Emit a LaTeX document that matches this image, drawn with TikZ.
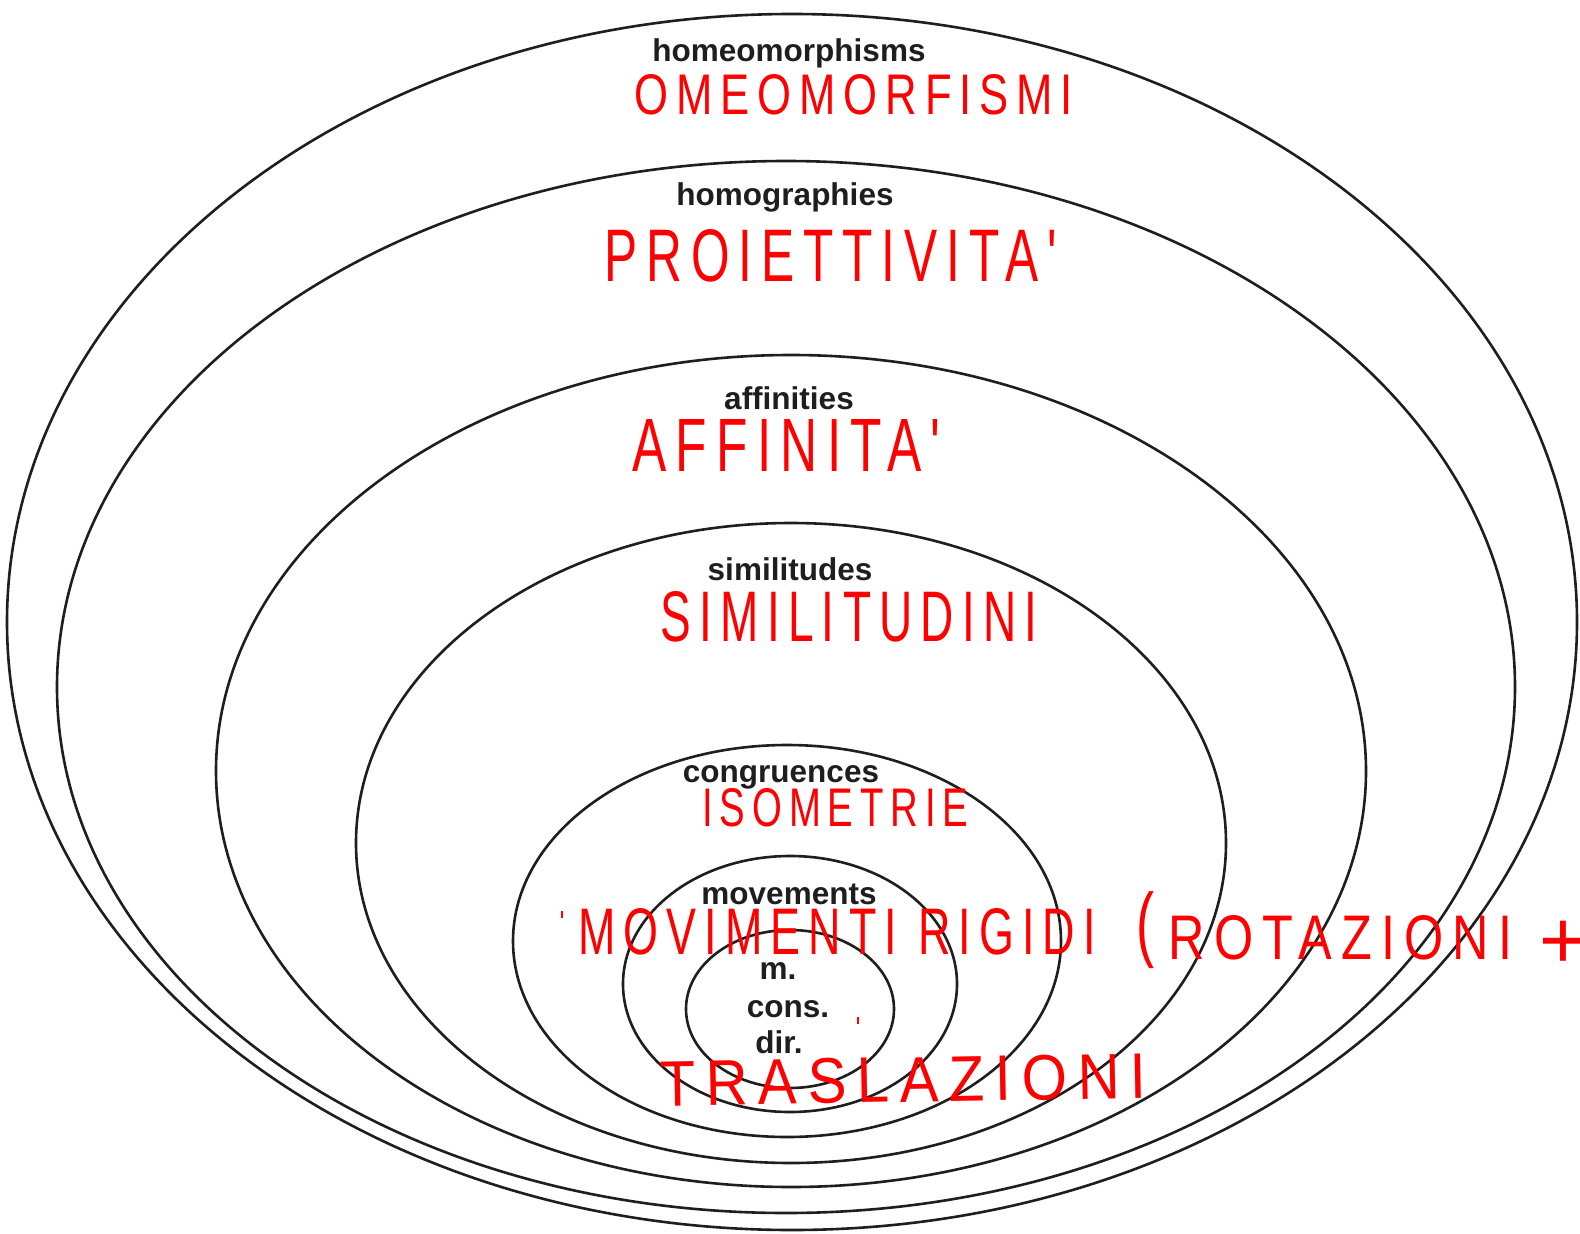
\documentclass[tikz,border=0pt]{standalone}
\usepackage{fontspec}
\setmainfont{Liberation Sans}
\newfontfamily\handfont[LetterSpace=18]{Liberation Sans}
\newfontfamily\plainhand{Liberation Sans}
\usepackage{graphicx}
\definecolor{ink}{RGB}{30,30,30}
\definecolor{pen}{RGB}{255,0,0}
\newcommand\hw[3]{\resizebox{#1pt}{#2pt}{\handfont #3\kern-0.18em}}
\begin{document}
\begin{tikzpicture}[x=1pt,y=-1pt,
  ring/.style={draw=ink, line width=2.6pt},
  lab/.style={font=\fontsize{31.5}{36}\selectfont\bfseries, text=ink, anchor=base, inner sep=0pt},
  hand/.style={text=pen, inner sep=0pt, anchor=center}]
\useasboundingbox (0,0) rectangle (1580,1234);
\fill[white] (0,0) rectangle (1580,1234);
\begin{scope}
\clip (0,0) rectangle (1580,1234);
% nested ellipses
\draw[ring] (792,622) ellipse [x radius=785, y radius=608];
\draw[ring] (786,687) ellipse [x radius=729, y radius=526];
\draw[ring] (791,771) ellipse [x radius=575, y radius=416];
\draw[ring] (791,843) ellipse [x radius=435, y radius=320];
\draw[ring] (787,941) ellipse [x radius=274, y radius=196];
\draw[ring] (790,984) ellipse [x radius=167, y radius=128];
\draw[ring] (790,1009) ellipse [x radius=104, y radius=79];

% printed labels
\node[lab] (homeo) at (789,61) {homeomorphisms};
\node[lab] (homog) at (785,205) {homographies};
\node[lab] (aff) at (789,409) {affinities};
\node[lab] (sim) at (790,580) {similitudes};
\node[lab] (cong) at (781,782) {congruences};
\node[lab] (mov) at (789,904) {movements};
\node[lab] (m) at (778,979) {m.};
\node[lab] (cons) at (788,1017) {cons.};
\node[lab] (dir) at (779,1053) {dir.};

% handwritten red labels
\node[hand] (omeo) at (850,95) {\hw{430}{40}{OMEOMORFISMI}};
\node[hand] (proi) at (826,256) {\hw{443}{52}{PROIETTIVITA'}};
\node[hand] (affi) at (782,445) {\hw{299}{52}{AFFINITA'}};
\node[hand] (simi) at (845,617) {\hw{369}{50}{SIMILITUDINI}};
\node[hand] (isom) at (832,808) {\hw{259}{38}{ISOMETRIE}};
\node[hand] (movr) at (833,932) {\hw{509}{46}{MOVIMENTI RIGIDI}};
\node[hand] (paren) at (1145,930) {\resizebox*{18pt}{77pt}{\plainhand (}};
\node[hand] (rota) at (1336,938) {\hw{334}{44}{ROTAZIONI}};
\node[text=pen, inner sep=0pt, anchor=base, font=\fontsize{82}{90}\selectfont\plainhand] (plus) at (1563,968) {+};
\node[hand, rotate=1] (tras) at (898,1080) {\hw{476}{45}{TRASLAZIONI}};
\draw[pen, line width=1.5pt] (562,911) -- (562,918);
\draw[pen, line width=1.5pt] (858,1017) -- (858,1024);
\end{scope}
\end{tikzpicture}
\end{document}
